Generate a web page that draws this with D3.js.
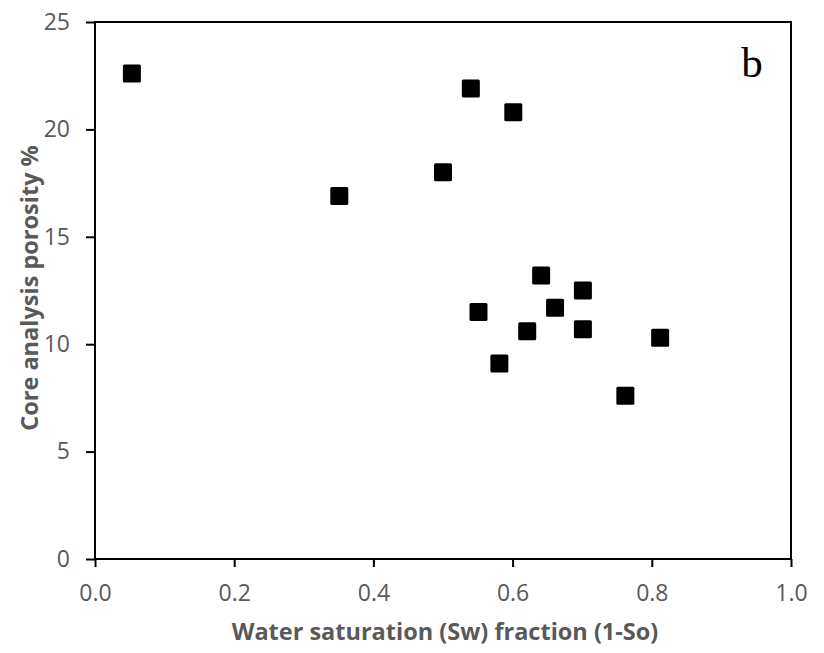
<!DOCTYPE html>
<html>
<head>
<meta charset="utf-8">
<script src="https://cdn.jsdelivr.net/npm/d3@7"></script>
<style>
  body { margin: 0; background: #fff; }
  .tick text { fill: #595959; font-family: "Open Sans", sans-serif; font-size: 23px; }
  .axis-title { fill: #595959; font-family: "Open Sans", sans-serif; font-size: 23.5px; font-weight: bold; }
</style>
</head>
<body>
<div id="chart"></div>
<script>
var width = 824,
    height = 653;

// water saturation (fraction) and core porosity (%)
var sw = [0.053, 0.54, 0.601, 0.50, 0.351, 0.641, 0.701, 0.551, 0.661, 0.621, 0.701, 0.812, 0.581, 0.762];
var porosity = [22.6, 21.9, 20.8, 18.0, 16.9, 13.2, 12.5, 11.5, 11.7, 10.6, 10.7, 10.3, 9.1, 7.6];
var xTicks = [0, 0.2, 0.4, 0.6, 0.8, 1.0];
var yTicks = [0, 5, 10, 15, 20, 25];

var margin = {top: 22, right: 33, bottom: 94, left: 95};

var x = d3.scaleLinear()
    .domain([0, 1])
    .range([margin.left, width - margin.right]);

var y = d3.scaleLinear()
    .domain([0, 25])
    .range([height - margin.bottom, margin.top]);

var svg = d3.select("#chart").append("svg")
    .attr("width", width)
    .attr("height", height);

// frame
svg.append("rect")
    .attr("x", x(0))
    .attr("y", y(25))
    .attr("width", x(1) - x(0))
    .attr("height", y(0) - y(25))
    .style("fill", "none")
    .style("stroke", "#000")
    .style("stroke-width", 2);

var xAxis = svg.append("g")
    .attr("transform", "translate(0," + y(0) + ")")
    .call(d3.axisBottom(x).tickValues(xTicks).tickFormat(d3.format(".1f")).tickSize(8).tickPadding(18));

var yAxis = svg.append("g")
    .attr("transform", "translate(" + x(0) + ",0)")
    .call(d3.axisLeft(y).tickValues(yTicks).tickSize(9).tickPadding(16));

[xAxis, yAxis].forEach(function(a) {
  a.select(".domain").remove();
  a.selectAll(".tick line").style("stroke", "#000").style("stroke-width", 2);
});

svg.selectAll("rect.pt")
    .data(sw.map(function(d, i) { return {sw: d, phi: porosity[i]}; }))
    .enter()
    .append("rect")
    .attr("class", "pt")
    .attr("x", function(d) { return x(d.sw) - 9; })
    .attr("y", function(d) { return y(d.phi) - 9; })
    .attr("width", 18)
    .attr("height", 18)
    .attr("rx", 1.5)
    .style("fill", "#000");

svg.append("text")
    .attr("class", "axis-title")
    .attr("x", 445)
    .attr("y", 640)
    .attr("text-anchor", "middle")
    .text("Water saturation (Sw) fraction (1-So)");

svg.append("text")
    .attr("class", "axis-title")
    .attr("transform", "translate(38,288) rotate(-90)")
    .attr("text-anchor", "middle")
    .text("Core analysis porosity %");

svg.append("text")
    .attr("x", 752)
    .attr("y", 77)
    .attr("text-anchor", "middle")
    .style("font-family", "'Liberation Serif', serif")
    .style("font-size", "43px")
    .text("b");
</script>
</body>
</html>
